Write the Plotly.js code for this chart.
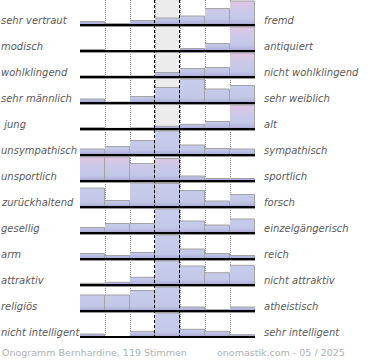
<!DOCTYPE html>
<html>
<head>
<meta charset="utf-8">
<script src="https://cdn.plot.ly/plotly-3.0.1.min.js"></script>
<style>html,body{margin:0;padding:0;background:#fff;}#chart{width:370px;height:360px;}</style>
</head>
<body>
<div id="chart"></div>
<script>
// Left / right adjective pairs (top to bottom)
const leftLabels = ["sehr vertraut","modisch","wohlklingend","sehr männlich","\u00a0jung","unsympathisch","unsportlich","zurückhaltend","gesellig","arm","attraktiv","religiös","nicht intelligent"];
const rightLabels = ["fremd","antiquiert","nicht wohlklingend","sehr weiblich","alt","sympathisch","sportlich","forsch","einzelgängerisch","reich","nicht attraktiv","atheistisch","sehr intelligent"];
// relative bar heights per row (7 scale steps, row maximum = 24)
const vertraut    = [3.5, 1.5, 4.5, 7, 9, 16.5, 24];
const modisch     = [1.5, 0, 0, 0, 2.5, 7.5, 24];
const wohlklingend= [1.3, 1, 1, 4.5, 8.5, 9.5, 24];
const maennlich   = [4, 1, 6.5, 15.5, 24, 14, 17.5];
const jung        = [1.5, 0.7, 1.2, 2.7, 4.7, 7.5, 24];
const unsympathisch=[6, 8.5, 14.5, 24, 10, 6.5, 6];
const unsportlich = [24, 24, 17.5, 22.5, 5, 2.5, 2.5];
const zurueckhaltend=[19, 6.5, 24, 23.5, 16.5, 6, 12.5];
const gesellig    = [5.5, 9.5, 9.5, 24, 12, 8, 14];
const arm         = [5.5, 3.5, 6.5, 24, 10, 5.5, 3.5];
const attraktiv   = [1.7, 2.7, 7.7, 24, 19, 12.3, 19.7];
const religioes   = [16, 16, 20.5, 24, 4, 1.3, 4];
const intelligent = [3, 0, 5.7, 24, 7.7, 5.7, 2.3];
const rows = [vertraut, modisch, wohlklingend, maennlich, jung, unsympathisch, unsportlich, zurueckhaltend, gesellig, arm, attraktiv, religioes, intelligent];
const captionLeft = "Onogramm Bernhardine, 119 Stimmen";
const captionRight = "onomastik.com - 05 / 2025";

const nRows = rows.length;
const unit = 26;            // px per row
const full = 24 / unit;     // full bar height in row units
const plotW = 175, plotL = 80, plotH = 338;
const colPx = plotW / 7;
const half = 0.5 / colPx;   // half a pixel in x units
const px2paperX = p => (p - plotL) / plotW;
const blueScale = [[0,'#a29ccd'],[0.08,'#b4b4dd'],[0.22,'#c3c8e8'],[1,'#c7cdeb']];
const pinkScale = [[0,'#a29ccd'],[0.08,'#b4b4dd'],[0.25,'#c3c8e8'],[0.55,'#c9c9e9'],[1,'#e1c6e3']];

const traces = [];
const shapes = [];
const annotations = [];

shapes.push({type:'rect', xref:'x', yref:'paper', x0:3, x1:4, y0:0, y1:1, fillcolor:'#ececec', line:{width:0}, layer:'below'});

rows.forEach((vals, k) => {
  const base = nRows - 1 - k;
  const maxV = Math.max(...vals);
  const argmax = vals.indexOf(maxV);
  const pink = (argmax === 0 || argmax === vals.length - 1);
  const xs = [0], ys = [base];
  vals.forEach((v, i) => {
    const top = base + v / 24 * full;
    xs.push(i, i + 1); ys.push(top, top);
  });
  xs.push(7, 0); ys.push(base, base);
  traces.push({type:'scatter', mode:'lines', x:xs, y:ys, fill:'toself', line:{width:0}, hoverinfo:'skip',
    fillcolor:'#c5cbea',
    fillgradient:{type:'vertical', colorscale: pink ? pinkScale : blueScale, start: base, stop: base + full}});
  const ox = [], oy = [];
  vals.forEach((v, i) => {
    if (v <= 0) return;
    const top = base + v / 24 * full;
    ox.push(i, i + 1 - half, i + 1 - half, null); oy.push(top, top, base, null);
  });
  traces.push({type:'scatter', mode:'lines', x:ox, y:oy, line:{color:'#a3a3a3', width:1}, hoverinfo:'skip', connectgaps:false});

  shapes.push({type:'line', xref:'x', yref:'y', x0:0, x1:7, y0:base - 1.5/unit, y1:base - 1.5/unit, line:{color:'#9a9a9a', width:1}, layer:'above'});
  shapes.push({type:'line', xref:'x', yref:'y', x0:0, x1:7, y0:base, y1:base, line:{color:'#000', width:2}, layer:'above'});

  annotations.push({xref:'paper', yref:'y', x:px2paperX(-1), y:base + 5/unit, text:leftLabels[k], showarrow:false, xanchor:'left', yanchor:'middle',
    font:{family:'DejaVu Sans', size:10, color:'#5a5a5a', style:'italic'}});
  annotations.push({xref:'paper', yref:'y', x:px2paperX(262), y:base + 5/unit, text:rightLabels[k], showarrow:false, xanchor:'left', yanchor:'middle',
    font:{family:'DejaVu Sans', size:10, color:'#5a5a5a', style:'italic'}});
});

[3, 4].forEach(x => shapes.push({type:'line', xref:'x', yref:'paper', x0:x - half, x1:x - half, y0:0, y1:1, line:{color:'#000', width:1, dash:'3px,2px'}, layer:'above'}));

annotations.push({xref:'paper', yref:'paper', x:px2paperX(0), y:-14/plotH, text:captionLeft, showarrow:false, xanchor:'left', yanchor:'middle',
  font:{family:'DejaVu Sans', size:9.5, color:'#b0b0b0'}});
annotations.push({xref:'paper', yref:'paper', x:px2paperX(347), y:-14/plotH, text:captionRight, showarrow:false, xanchor:'right', yanchor:'middle',
  font:{family:'DejaVu Sans', size:9.5, color:'#b0b0b0'}});

const layout = {
  width:370, height:360,
  margin:{l:80, r:115, t:0, b:22, pad:0},
  paper_bgcolor:'#fff', plot_bgcolor:'rgba(0,0,0,0)',
  showlegend:false,
  xaxis:{range:[0,7], tickvals:[0,1,2,3,4,5,6,7], showticklabels:false, ticks:'', showgrid:true, gridcolor:'#8c8c8c', griddash:'1px,1px', gridwidth:1, zeroline:false, showline:false, fixedrange:true},
  yaxis:{range:[-1/unit, nRows - 1/unit], showticklabels:false, ticks:'', showgrid:false, zeroline:false, showline:false, fixedrange:true},
  shapes:shapes, annotations:annotations
};
Plotly.newPlot('chart', traces, layout, {staticPlot:true, displayModeBar:false});
</script>
</body>
</html>
